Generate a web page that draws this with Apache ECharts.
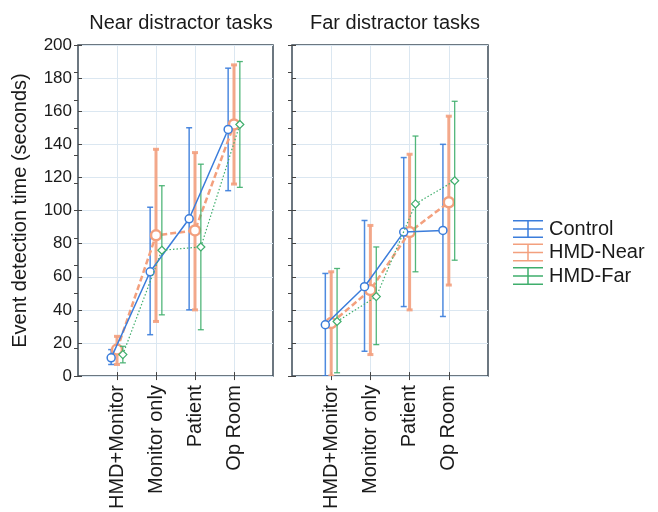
<!DOCTYPE html>
<html>
<head>
<meta charset="utf-8">
<script src="https://cdn.jsdelivr.net/npm/echarts@6/dist/echarts.min.js"></script>
<style>
  html, body { margin: 0; padding: 0; background: #fff; }
  #chart { width: 658px; height: 512px; }
</style>
</head>
<body>
<div id="chart"></div>
<script>
// categories along x (positions 1..4)
const categories = ['HMD+Monitor', 'Monitor only', 'Patient', 'Op Room']
const yTicks = [0, 20, 40, 60, 80, 100, 120, 140, 160, 180, 200]

// near distractor tasks (left panel)
const nearControlMean = [11, 63, 95, 149]
const nearControlLow = [7, 25, 40, 112]
const nearControlHigh = [16, 102, 150, 186]
const nearNearMean = [16, 85, 88, 152]
const nearNearLow = [7, 33, 40, 116]
const nearNearHigh = [24, 137, 135, 188]
const nearFarMean = [13, 76, 78, 152]
const nearFarLow = [8, 37, 28, 114]
const nearFarHigh = [18, 115, 128, 190]

// far distractor tasks (right panel)
const farControlMean = [31, 54, 87, 88]
const farControlLow = [0, 15, 42, 36]
const farControlHigh = [62, 94, 132, 140]
const farNearMean = [32, 52, 87, 105]
const farNearLow = [0, 13, 40, 55]
const farNearHigh = [63, 91, 134, 157]
const farFarMean = [33, 48, 104, 118]
const farFarLow = [2, 19, 63, 70]
const farFarHigh = [65, 78, 145, 166]

const BLUE = '#3b7ddb'
const ORANGE = '#f3a07e'
const GREEN = '#3fae6c'
const FONT = '"Liberation Sans", Arial, sans-serif'
const INK = '#1a1a1a'

const groups = [
  { name: 'Control', color: BLUE, shift: -0.15, lineType: 'solid', lineWidth: 1.5, barWidth: 1.5,
    symbol: 'circle', symbolSize: 8, border: 1.5, z: 5,
    panels: [[nearControlMean, nearControlLow, nearControlHigh], [farControlMean, farControlLow, farControlHigh]] },
  { name: 'HMD-Near', color: ORANGE, shift: 0, lineType: [6, 3], lineWidth: 2.5, barWidth: 3,
    symbol: 'circle', symbolSize: 10, border: 2.5, z: 4,
    panels: [[nearNearMean, nearNearLow, nearNearHigh], [farNearMean, farNearLow, farNearHigh]] },
  { name: 'HMD-Far', color: GREEN, shift: 0.15, lineType: [1.5, 2], lineWidth: 1.2, barWidth: 1.3,
    symbol: 'diamond', symbolSize: 8, border: 1.2, z: 6,
    panels: [[nearFarMean, nearFarLow, nearFarHigh], [farFarMean, farFarLow, farFarHigh]] }
]

function errRender(lineWidth, color) {
  return function (params, api) {
    const x = api.value(0)
    const p1 = api.coord([x, api.value(2)])
    const p0 = api.coord([x, api.value(1)])
    const w = 3
    const style = { stroke: color, lineWidth: lineWidth, opacity: 0.9 }
    return {
      type: 'group',
      children: [
        { type: 'line', shape: { x1: p1[0], y1: p1[1], x2: p0[0], y2: p0[1] }, style },
        { type: 'line', shape: { x1: p1[0] - w, y1: p1[1], x2: p1[0] + w, y2: p1[1] }, style },
        { type: 'line', shape: { x1: p0[0] - w, y1: p0[1], x2: p0[0] + w, y2: p0[1] }, style }
      ]
    }
  }
}

const grids = [
  { left: 78, top: 45, width: 195, height: 333 },
  { left: 292, top: 45, width: 196, height: 333 }
]

const xAxes = []
const yAxes = []
grids.forEach((g, i) => {
  xAxes.push({
    type: 'value', gridIndex: i, min: 0, max: 5, interval: 1,
    axisLine: { show: false },
    axisTick: { inside: true, length: 4, lineStyle: { color: '#444' },
      customValues: [1, 2, 3, 4] },
    splitLine: { show: true, lineStyle: { color: '#dbe7f1', width: 1 } },
    axisLabel: {
      rotate: 90, fontSize: 20, color: INK, fontFamily: FONT, margin: 9,
      customValues: [1, 2, 3, 4],
      formatter: v => categories[v - 1] || ''
    }
  })
  xAxes.push({
    type: 'value', gridIndex: i, min: 0, max: 5, interval: 1, position: 'top',
    axisLine: { show: false }, axisLabel: { show: false }, splitLine: { show: false },
    axisTick: { inside: true, length: 4, lineStyle: { color: '#444' }, customValues: [1, 2, 3, 4] }
  })
  yAxes.push({
    type: 'value', gridIndex: i, min: 0, max: 200, interval: 20,
    name: i === 0 ? 'Event detection time (seconds)' : '',
    nameLocation: 'middle', nameGap: 48,
    nameTextStyle: { fontSize: 20, color: INK, fontFamily: FONT },
    axisLine: { show: false },
    axisTick: { inside: true, length: 4, lineStyle: { color: '#444' } },
    splitLine: { show: true, lineStyle: { color: '#dbe7f1', width: 1 } },
    axisLabel: { show: i === 0, fontSize: 17, color: INK, fontFamily: FONT, margin: 6,
      customValues: yTicks }
  })
  yAxes.push({
    type: 'value', gridIndex: i, min: 0, max: 12, interval: 1, position: 'right',
    axisLine: { show: false }, axisLabel: { show: false }, splitLine: { show: false },
    axisTick: { inside: true, length: 4, lineStyle: { color: '#444' } }
  })
})

const series = []
groups.forEach(gr => {
  gr.panels.forEach((arr, p) => {
    const [mean, low, high] = arr
    series.push({
      name: gr.name, type: 'custom', xAxisIndex: p * 2, yAxisIndex: p * 2, clip: true,
      z: gr.z - 1,
      renderItem: errRender(gr.barWidth, gr.color),
      encode: { x: 0, y: [1, 2] },
      data: mean.map((m, k) => [k + 1 + gr.shift, low[k], high[k]]),
      itemStyle: { color: gr.color }
    })
    series.push({
      name: gr.name, type: 'line', xAxisIndex: p * 2, yAxisIndex: p * 2, z: gr.z,
      data: mean.map((m, k) => [k + 1 + gr.shift, m]),
      symbol: gr.symbol, symbolSize: gr.symbolSize, showSymbol: true,
      lineStyle: { color: gr.color, width: gr.lineWidth, type: gr.lineType },
      itemStyle: { color: '#fff', borderColor: gr.color, borderWidth: gr.border },
      emphasis: { disabled: true }
    })
  })
})

// legend icon: error bar crossing a short line
const legendIcon = 'path://M0,0H30V1.5H0Z M0,16.5H30V18H0Z M0,8.25H30V9.75H0Z M14.25,0H15.75V18H14.25Z'

const chart = echarts.init(document.getElementById('chart'))
chart.setOption({
  animation: false,
  textStyle: { fontFamily: FONT },
  title: [
    { text: 'Near distractor tasks', left: 176, top: 8, textAlign: 'center',
      textStyle: { fontSize: 20, fontWeight: 'normal', color: INK, fontFamily: FONT } },
    { text: 'Far distractor tasks', left: 390, top: 8, textAlign: 'center',
      textStyle: { fontSize: 20, fontWeight: 'normal', color: INK, fontFamily: FONT } }
  ],
  legend: {
    orient: 'vertical', left: 508, top: 214, itemGap: 3.5, itemWidth: 32, itemHeight: 18,
    data: groups.map(g => ({ name: g.name, icon: legendIcon, itemStyle: { color: g.color } })),
    textStyle: { fontSize: 20, color: INK, fontFamily: FONT }
  },
  grid: grids.map(g => Object.assign({ show: true, borderColor: '#3d4b57', borderWidth: 1.5,
    backgroundColor: 'transparent' }, g)),
  xAxis: xAxes,
  yAxis: yAxes,
  series: series
})
</script>
</body>
</html>
